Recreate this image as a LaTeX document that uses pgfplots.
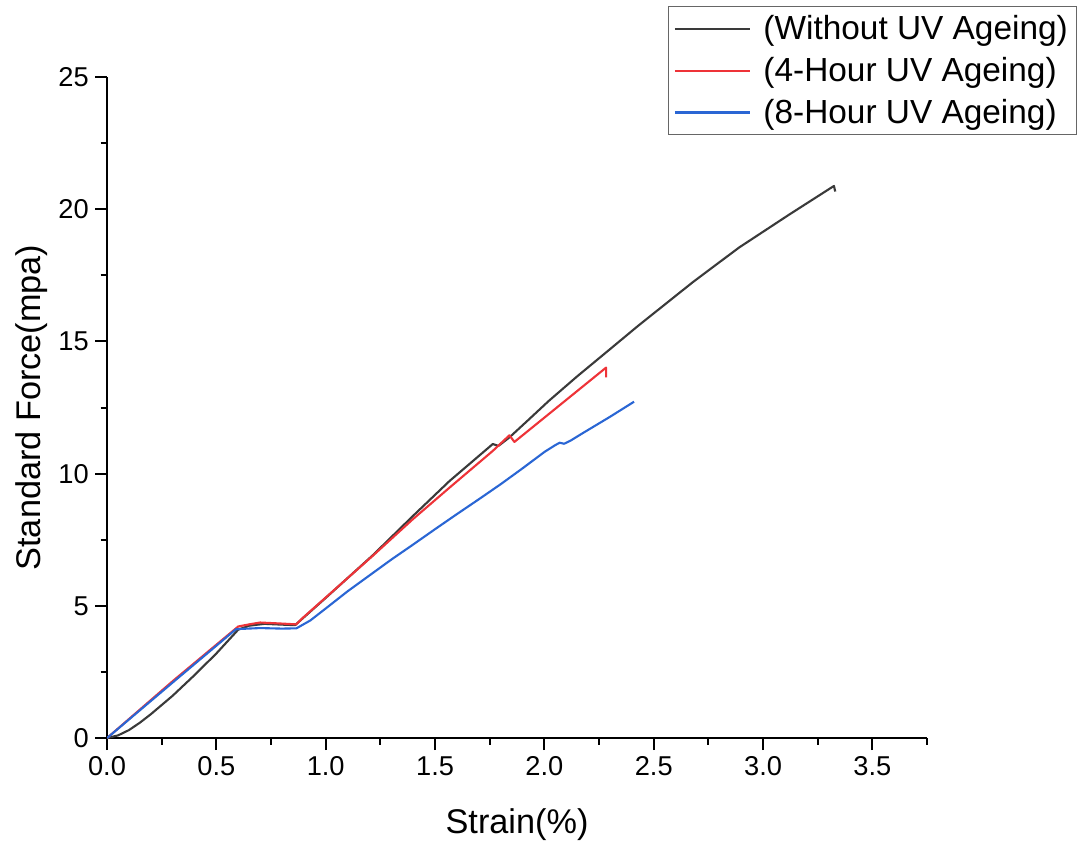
\documentclass[border=0pt]{standalone}
\usepackage{fontspec}
\setmainfont{Liberation Sans}
\usepackage{pgfplots}
\pgfplotsset{compat=1.18}

\definecolor{cblack}{HTML}{3A3A3A}
\definecolor{cred}{HTML}{EE3338}
\definecolor{cblue}{HTML}{2A66D4}

\begin{document}
\begin{tikzpicture}
\begin{axis}[
    width=16.4cm, height=13.22cm,
    scale only axis,
    xmin=0, xmax=3.75, ymin=0, ymax=25,
    axis x line*=bottom, axis y line*=left,
    axis line style={line width=1.2pt},
    tick align=outside,
    major tick length=0.24cm, minor tick length=0.13cm,
    every tick/.style={line width=1.1pt, black},
    xtick={0,0.5,...,3.5}, minor xtick={0.25,0.75,...,3.75},
    ytick={0,5,...,25}, minor ytick={2.5,7.5,...,22.5},
    xticklabel style={/pgf/number format/.cd, fixed, fixed zerofill, precision=1},
    /pgf/number format/assume math mode=true,
    tick label style={font=\fontsize{15.5}{18}\selectfont},
    xlabel={Strain(\%)},
    ylabel={Standard Force(mpa)},
    every axis x label/.style={at={(axis description cs:0.5,-0.131)}, anchor=center,
        font=\fontsize{19.5}{23}\selectfont},
    every axis y label/.style={at={(axis description cs:-0.0915,0.5)}, rotate=90, anchor=center,
        font=\fontsize{19.5}{23}\selectfont},
    legend style={at={(1.183,1.107)}, anchor=north east,
        font=\fontsize{19}{23}\selectfont, draw=black!60, line width=0.6pt,
        row sep=4.5pt, inner sep=3pt},
    legend cell align=left,
    legend image code/.code={\draw[#1, line width=1.2pt] (0,0) -- (1.5cm,0); \path (1.68cm,0);},
    every axis plot/.append style={line width=1.2pt, line join=round},
    % white margin as in the reference
    after end axis/.code={\path (rel axis cs:-0.1305,-0.159) rectangle (rel axis cs:1.195,1.1165);},
]
% Without UV ageing
\addplot[cblack] coordinates {
 (0,0) (0.05,0.1) (0.1,0.3) (0.15,0.58) (0.2,0.9) (0.3,1.6) (0.4,2.38)
 (0.5,3.2) (0.6,4.1) (0.65,4.25) (0.72,4.32) (0.8,4.29) (0.86,4.27)
 (1.0,5.3) (1.216,6.92) (1.399,8.4) (1.566,9.72) (1.764,11.12) (1.79,11.05)
 (1.84,11.37) (1.92,11.98) (2.02,12.75) (2.15,13.68) (2.28,14.57) (2.43,15.6)
 (2.68,17.25) (2.89,18.55) (3.12,19.8) (3.324,20.88) (3.33,20.67)
};
% 4-hour UV ageing
\addplot[cred] coordinates {
 (0,0) (0.3,2.15) (0.6,4.22) (0.65,4.3) (0.7,4.37) (0.8,4.33) (0.866,4.3)
 (0.889,4.5) (1.216,6.9) (1.399,8.28) (1.566,9.47) (1.764,10.86)
 (1.84,11.45) (1.863,11.2) (2.282,14.01) (2.282,13.64)
};
% 8-hour UV ageing
\addplot[cblue] coordinates {
 (0,0) (0.3,2.1) (0.59,4.12) (0.7,4.16) (0.8,4.14) (0.866,4.15)
 (0.93,4.45) (1.0,4.9) (1.1,5.55) (1.2,6.15) (1.3,6.75) (1.4,7.32)
 (1.5,7.9) (1.6,8.47) (1.7,9.03) (1.8,9.6) (1.9,10.2) (2.0,10.82)
 (2.05,11.08) (2.07,11.17) (2.09,11.13) (2.12,11.25) (2.175,11.53)
 (2.3,12.15) (2.41,12.72)
};
\legend{(Without UV Ageing),(4-Hour UV Ageing),(8-Hour UV Ageing)}
\end{axis}
\end{tikzpicture}
\end{document}
